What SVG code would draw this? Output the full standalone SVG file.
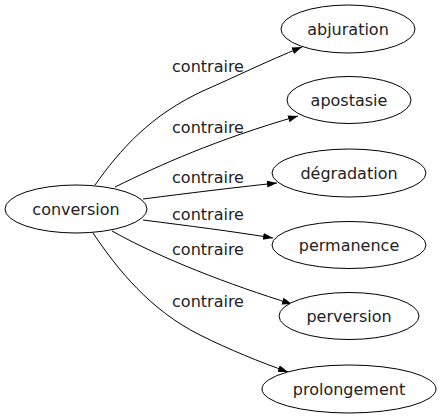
<svg xmlns="http://www.w3.org/2000/svg" width="440" height="419" viewBox="0 0 440 419">
<style>
.node ellipse{fill:#fff;stroke:#000;stroke-width:1}
text{font-family:"DejaVu Sans",sans-serif;font-size:16px;fill:#222;text-anchor:middle}
.edges path{fill:none;stroke:#000;stroke-width:1}
</style>
<defs>
<marker id="arr" markerUnits="userSpaceOnUse" markerWidth="11" markerHeight="8" refX="10" refY="3.5" orient="auto">
<path d="M0,0 L10,3.5 L0,7 z" fill="#000"/>
</marker>
</defs>
<rect width="440" height="419" fill="#fff"/>
<g class="edges">
<path d="M95,185 C120,150 150,115 205,90 C235,77 265,62 302,47" marker-end="url(#arr)"/>
<path d="M115,187 C160,165 215,140 298,116" marker-end="url(#arr)"/>
<path d="M143,199 C190,193 230,188 277,183" marker-end="url(#arr)"/>
<path d="M143,220 C190,226 230,231 273,238" marker-end="url(#arr)"/>
<path d="M112,231 C160,258 230,285 292,304" marker-end="url(#arr)"/>
<path d="M93,233 C118,270 150,310 200,335 C230,350 260,362 288,372" marker-end="url(#arr)"/>
<text x="208" y="72">contraire</text>
<text x="208" y="133">contraire</text>
<text x="208" y="183">contraire</text>
<text x="208" y="220">contraire</text>
<text x="208" y="255">contraire</text>
<text x="208" y="307">contraire</text>
</g>
<g id="conversion" class="node"><ellipse cx="76" cy="209" rx="71" ry="24"/><text x="76" y="215">conversion</text></g>
<g id="abjuration" class="node"><ellipse cx="348" cy="29" rx="67" ry="24"/><text x="348" y="35">abjuration</text></g>
<g id="apostasie" class="node"><ellipse cx="349" cy="100" rx="62" ry="23.5"/><text x="349" y="106">apostasie</text></g>
<g id="degradation" class="node"><ellipse cx="349" cy="173" rx="77" ry="24"/><text x="349" y="179">dégradation</text></g>
<g id="permanence" class="node"><ellipse cx="349" cy="245" rx="77" ry="23.5"/><text x="349" y="251">permanence</text></g>
<g id="perversion" class="node"><ellipse cx="349" cy="316" rx="70" ry="23.5"/><text x="349" y="322">perversion</text></g>
<g id="prolongement" class="node"><ellipse cx="349" cy="389" rx="87" ry="24"/><text x="349" y="395">prolongement</text></g>
</svg>
